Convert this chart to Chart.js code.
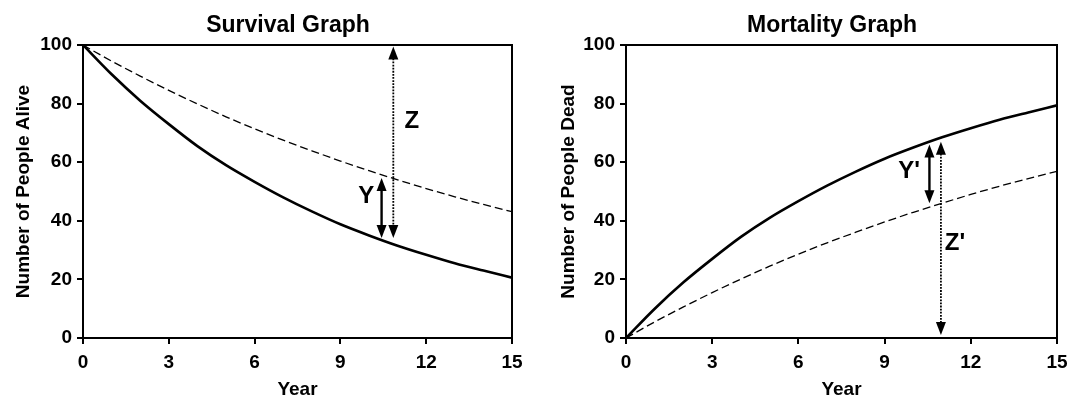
<!DOCTYPE html>
<html>
<head>
<meta charset="utf-8">
<script src="https://cdn.jsdelivr.net/npm/chart.js@4.4.1/dist/chart.umd.min.js"></script>
<style>
  html, body { margin: 0; padding: 0; background: #fff; }
  body { position: relative; width: 1069px; height: 399px; overflow: hidden; }
  canvas { position: absolute; top: 0; }
  #survival { left: 0; }
  #mortality { left: 545px; }
</style>
</head>
<body>
<canvas id="survival" width="576" height="399"></canvas>
<canvas id="mortality" width="574" height="399"></canvas>
<script>
// Datos
const years = [0, 1, 2, 3, 4, 5, 6, 7, 8, 9, 10, 11, 12, 13, 14, 15];
const survivalSolid = [100, 90, 81, 73, 65.5, 59, 53.3, 48, 43.2, 38.8, 35, 31.5, 28.4, 25.5, 23, 20.6];
const survivalDashed = [100, 94.5, 89.4, 84.5, 79.9, 75.5, 71.4, 67.5, 63.9, 60.4, 57.1, 54, 51, 48.2, 45.6, 43.1];
const mortalitySolid = [0, 10, 19, 27, 34.5, 41, 46.7, 52, 56.8, 61.2, 65, 68.5, 71.6, 74.5, 77, 79.4];
const mortalityDashed = [0, 5.5, 10.6, 15.5, 20.1, 24.5, 28.6, 32.5, 36.1, 39.6, 42.9, 46, 49, 51.8, 54.4, 56.9];

const xTicks = [0, 3, 6, 9, 12, 15];
const yTicks = [0, 20, 40, 60, 80, 100];

// Flechas (posicion en unidades de datos)
const survivalArrowX = [10.44, 10.85];
const survivalArrowTop = [54.6, 99.5];
const survivalArrowBottom = [34.1, 34.1];
const survivalLabels = ['Y', 'Z'];
const survivalLabelX = [9.9, 11.5];
const survivalLabelY = [48.2, 73.8];

const mortalityArrowX = [10.56, 10.96];
const mortalityArrowTop = [66, 67];
const mortalityArrowBottom = [46, 1];
const mortalityLabels = ["Y'", "Z'"];
const mortalityLabelX = [9.85, 11.45];
const mortalityLabelY = [57, 32.4];

const FONT = "'Liberation Sans', Arial, sans-serif";

function toPoints(ys) {
    return years.map((x, i) => ({ x: x, y: ys[i] }));
}

// Plugin: marco completo + flechas + letras
const boxAndArrows = {
    id: 'boxAndArrows',
    afterDatasetsDraw(chart, args, opts) {
        const ctx = chart.ctx;
        const area = chart.chartArea;
        const xs = chart.scales.x;
        const ys = chart.scales.y;
        ctx.save();
        ctx.strokeStyle = '#000';
        ctx.lineWidth = 2;
        ctx.strokeRect(area.left, area.top, area.right - area.left, area.bottom - area.top);

        const headLen = 13, headW = 10;
        opts.arrowX.forEach(function (v, i) {
            const px = xs.getPixelForValue(v);
            const top = ys.getPixelForValue(opts.arrowTop[i]);
            const bot = ys.getPixelForValue(opts.arrowBottom[i]);
            const dotted = i === 1;
            ctx.beginPath();
            ctx.lineWidth = dotted ? 1.8 : 2.4;
            ctx.setLineDash(dotted ? [1.8, 1.3] : []);
            ctx.moveTo(px, top + headLen - 1);
            ctx.lineTo(px, bot - headLen + 1);
            ctx.stroke();
            ctx.setLineDash([]);
            ctx.fillStyle = '#000';
            ctx.beginPath();
            ctx.moveTo(px, top);
            ctx.lineTo(px - headW / 2, top + headLen);
            ctx.lineTo(px + headW / 2, top + headLen);
            ctx.closePath();
            ctx.fill();
            ctx.beginPath();
            ctx.moveTo(px, bot);
            ctx.lineTo(px - headW / 2, bot - headLen);
            ctx.lineTo(px + headW / 2, bot - headLen);
            ctx.closePath();
            ctx.fill();
        });

        ctx.font = 'bold 24px ' + FONT;
        ctx.textAlign = 'center';
        ctx.textBaseline = 'middle';
        opts.labels.forEach(function (t, i) {
            ctx.fillText(t, xs.getPixelForValue(opts.labelX[i]), ys.getPixelForValue(opts.labelY[i]));
        });
        ctx.restore();
    }
};

function crearGrafico(id, titulo, yTitulo, solid, dashed, yWidth, yTitlePad, rightWidth, anotaciones) {
    const ctx = document.getElementById(id).getContext('2d');
    return new Chart(ctx, {
        type: 'line',
        data: {
            datasets: [{
                data: toPoints(solid),
                borderColor: '#000',
                borderWidth: 2.6,
                pointRadius: 0,
                cubicInterpolationMode: 'monotone',
                fill: false
            }, {
                data: toPoints(dashed),
                borderColor: '#000',
                borderWidth: 1.3,
                borderDash: [8, 4],
                pointRadius: 0,
                cubicInterpolationMode: 'monotone',
                fill: false
            }]
        },
        options: {
            responsive: false,
            animation: false,
            devicePixelRatio: 1,
            layout: { padding: 0 },
            plugins: {
                legend: { display: false },
                tooltip: { enabled: false },
                title: {
                    display: true,
                    text: titulo,
                    color: '#000',
                    font: { family: FONT, size: 23, weight: 'bold', lineHeight: 1.2 },
                    padding: { top: 12, bottom: 5.4 }
                },
                boxAndArrows: anotaciones
            },
            scales: {
                x: {
                    type: 'linear',
                    min: 0,
                    max: 15,
                    afterBuildTicks: function (scale) {
                        scale.ticks = xTicks.map(v => ({ value: v }));
                    },
                    afterFit: function (scale) { scale.height = 61; },
                    grid: { drawOnChartArea: false, drawTicks: true, tickLength: 6, color: '#000', lineWidth: 2 },
                    border: { display: true, color: '#000', width: 2 },
                    ticks: { color: '#000', padding: 7, maxRotation: 0, font: { family: FONT, size: 19, weight: 'bold' } },
                    title: {
                        display: true,
                        text: 'Year',
                        color: '#000',
                        font: { family: FONT, size: 19, weight: 'bold', lineHeight: 1 },
                        padding: { top: 0, bottom: 0 }
                    }
                },
                y: {
                    min: 0,
                    max: 100,
                    afterBuildTicks: function (scale) {
                        scale.ticks = yTicks.map(v => ({ value: v }));
                    },
                    afterFit: function (scale) { scale.width = yWidth; },
                    grid: { drawOnChartArea: false, drawTicks: true, tickLength: 6, color: '#000', lineWidth: 2 },
                    border: { display: true, color: '#000', width: 2 },
                    ticks: { color: '#000', padding: 5, font: { family: FONT, size: 19, weight: 'bold' } },
                    title: {
                        display: true,
                        text: yTitulo,
                        color: '#000',
                        font: { family: FONT, size: 19, weight: 'bold', lineHeight: 1.2 },
                        padding: { top: yTitlePad, bottom: 0 }
                    }
                },
                // eje vacio a la derecha, solo reserva espacio
                margen: {
                    position: 'right',
                    display: true,
                    afterFit: function (scale) { scale.width = rightWidth; },
                    grid: { display: false },
                    border: { display: false },
                    ticks: { display: false }
                }
            }
        },
        plugins: [boxAndArrows]
    });
}

crearGrafico('survival', 'Survival Graph', 'Number of People Alive',
    survivalSolid, survivalDashed, 83, 12, 64, {
        arrowX: survivalArrowX, arrowTop: survivalArrowTop, arrowBottom: survivalArrowBottom,
        labels: survivalLabels, labelX: survivalLabelX, labelY: survivalLabelY
    });

crearGrafico('mortality', 'Mortality Graph', 'Number of People Dead',
    mortalitySolid, mortalityDashed, 81, 12, 62, {
        arrowX: mortalityArrowX, arrowTop: mortalityArrowTop, arrowBottom: mortalityArrowBottom,
        labels: mortalityLabels, labelX: mortalityLabelX, labelY: mortalityLabelY
    });
</script>
</body>
</html>
